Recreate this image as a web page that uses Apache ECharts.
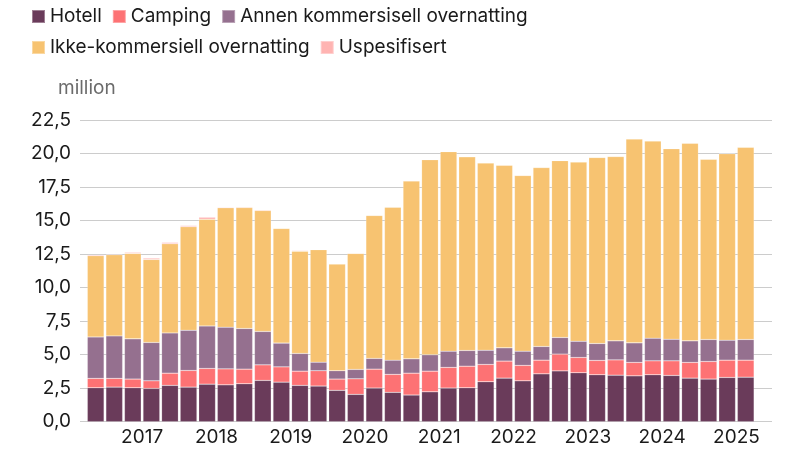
<!DOCTYPE html>
<html>
<head>
<meta charset="utf-8">
<script src="https://cdn.jsdelivr.net/npm/echarts@6/dist/echarts.min.js"></script>
<style>
  html, body { margin: 0; padding: 0; background: #fff; }
  #chart { width: 787px; height: 449px; }
</style>
</head>
<body>
<div id="chart"></div>
<script>
// kvartaler, 2016K4 - 2025K3
const quarters = [
  '2016K4',
  '2017K1', '2017K2', '2017K3', '2017K4',
  '2018K1', '2018K2', '2018K3', '2018K4',
  '2019K1', '2019K2', '2019K3', '2019K4',
  '2020K1', '2020K2', '2020K3', '2020K4',
  '2021K1', '2021K2', '2021K3', '2021K4',
  '2022K1', '2022K2', '2022K3', '2022K4',
  '2023K1', '2023K2', '2023K3', '2023K4',
  '2024K1', '2024K2', '2024K3', '2024K4',
  '2025K1', '2025K2', '2025K3'
]

// årstall på x-aksen (midt i hvert år)
const yearLabels = ['2017', '2018', '2019', '2020', '2021', '2022', '2023', '2024', '2025']
const yearPos = [2.5, 6.5, 10.5, 14.5, 18.5, 22.5, 26.5, 30.5, 34.5]

// millioner overnattinger
const hotell = [2.53, 2.58, 2.53, 2.48, 2.71, 2.58, 2.80, 2.75, 2.83, 3.08, 2.95, 2.71,
  2.66, 2.34, 2.04, 2.51, 2.19, 1.99, 2.23, 2.51, 2.53, 2.98, 3.25, 3.05,
  3.57, 3.79, 3.65, 3.50, 3.47, 3.42, 3.50, 3.45, 3.25, 3.18, 3.30, 3.32]
const camping = [0.70, 0.65, 0.65, 0.57, 0.91, 1.24, 1.17, 1.19, 1.09, 1.16, 1.14, 1.06,
  1.14, 0.84, 1.16, 1.41, 1.34, 1.63, 1.54, 1.54, 1.61, 1.29, 1.27, 1.15,
  1.02, 1.25, 1.14, 1.07, 1.14, 1.00, 1.04, 1.09, 1.17, 1.31, 1.29, 1.27]
const annen = [3.09, 3.17, 3.00, 2.86, 3.00, 3.00, 3.17, 3.11, 3.03, 2.49, 1.77, 1.32,
  0.64, 0.62, 0.70, 0.80, 1.06, 1.07, 1.22, 1.21, 1.17, 1.06, 0.99, 1.06,
  1.02, 1.24, 1.21, 1.26, 1.42, 1.46, 1.69, 1.61, 1.61, 1.64, 1.49, 1.54]
const ikkeKommersiell = [6.06, 6.05, 6.37, 6.19, 6.65, 7.72, 7.96, 8.90, 9.02, 9.02, 8.55, 7.63,
  8.39, 7.96, 8.65, 10.66, 11.41, 13.27, 14.55, 14.88, 14.44, 13.97, 13.61, 13.10,
  13.34, 13.19, 13.37, 13.87, 13.74, 15.21, 14.71, 14.21, 14.73, 13.44, 13.91, 14.33]
const uspesifisert = [0.07, 0.05, 0.08, 0.10, 0.10, 0.09, 0.15, 0.05, 0.05, 0.05, 0.04, 0.05,
  0.02, 0.02, 0.02, 0.02, 0.02, 0.02, 0.02, 0.02, 0.02, 0.02, 0.02, 0.02,
  0.02, 0.02, 0.02, 0.02, 0.02, 0.02, 0.02, 0.02, 0.02, 0.02, 0.02, 0.02]

const font = 'Inter, "Noto Sans", sans-serif'
const colors = ['#6a3b5a', '#fd7274', '#95708f', '#f7c371', '#ffb4b2']

const chart = echarts.init(document.getElementById('chart'))

const bar = (name, data) => ({
  name,
  type: 'bar',
  stack: 'total',
  xAxisIndex: 1,
  yAxisIndex: 1,
  barCategoryGap: '10%',
  itemStyle: { borderColor: 'rgba(255,255,255,0.35)', borderWidth: 0.5 },
  data
})

const legendBase = {
  padding: 0,
  itemWidth: 13, itemHeight: 13, itemGap: 10,
  icon: 'rect',
  textStyle: { fontSize: 19, color: '#1a1a1a' }
}

const option = {
  animation: false,
  color: colors,
  textStyle: { fontFamily: font },
  title: {
    text: 'million',
    left: 58,
    top: 79,
    padding: 0,
    textStyle: { fontSize: 19, fontWeight: 'normal', color: '#6b6b6b', fontFamily: font }
  },
  legend: [
    Object.assign({}, legendBase, {
      data: ['Hotell', 'Camping', 'Annen kommersisell overnatting'],
      left: 31, top: 7
    }),
    Object.assign({}, legendBase, {
      data: ['Ikke-kommersiell overnatting', 'Uspesifisert'],
      left: 31, top: 38
    })
  ],
  grid: [
    // bakgrunn med rutenett
    { left: 80, right: 15, top: 120, bottom: 27.3 },
    // søylene
    { left: 86.4, right: 32, top: 120, bottom: 27.3 }
  ],
  xAxis: [
    { type: 'value', gridIndex: 0, show: false, min: 0, max: 1 },
    {
      type: 'category', gridIndex: 1, data: quarters, position: 'bottom',
      axisLine: { show: false }, axisTick: { show: false }, axisLabel: { show: false }
    },
    {
      type: 'value', gridIndex: 1, min: -0.5, max: 35.5, position: 'bottom',
      axisLine: { show: false }, axisTick: { show: false }, splitLine: { show: false },
      axisLabel: {
        customValues: yearPos,
        formatter: (v) => yearLabels[yearPos.indexOf(v)] || '',
        fontSize: 19, color: '#1a1a1a', margin: 6
      }
    }
  ],
  yAxis: [
    {
      type: 'value', gridIndex: 0, min: 0, max: 22.5, interval: 2.5,
      axisLine: { show: false }, axisTick: { show: false },
      splitLine: { lineStyle: { color: '#cccccc', width: 1.2 } },
      axisLabel: {
        fontSize: 19, color: '#1a1a1a', margin: 9,
        formatter: (v) => v.toFixed(1).replace('.', ',')
      }
    },
    { type: 'value', gridIndex: 1, min: 0, max: 22.5, show: false }
  ],
  series: [
    bar('Hotell', hotell),
    bar('Camping', camping),
    bar('Annen kommersisell overnatting', annen),
    bar('Ikke-kommersiell overnatting', ikkeKommersiell),
    bar('Uspesifisert', uspesifisert)
  ]
}

chart.setOption(option)
</script>
</body>
</html>
